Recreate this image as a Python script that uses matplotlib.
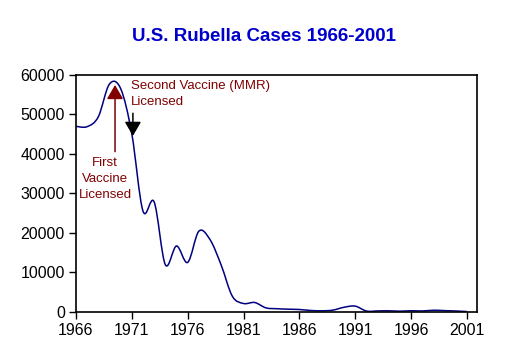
import numpy as np
import matplotlib.pyplot as plt
from matplotlib.path import Path
from matplotlib.patches import PathPatch

plt.rcParams['font.family'] = ['Liberation Sans', 'DejaVu Sans']

# reported rubella cases per year
years = list(range(1966, 2002))
cases = [46975, 46888, 49371, 57686, 56552, 45086, 25507, 27804, 11917, 16652,
         12491, 20395, 18269, 11795, 3904, 2077, 2325, 970, 752, 630,
         551, 306, 225, 396, 1125, 1401, 160, 192, 227, 128,
         238, 181, 364, 267, 176, 23]

xticks = [1966, 1971, 1976, 1981, 1986, 1991, 1996, 2001]
yticks = [0, 10000, 20000, 30000, 40000, 50000, 60000]

title_txt = 'U.S. Rubella Cases 1966-2001'
first_txt = 'First\nVaccine\nLicensed'
second_txt = 'Second Vaccine (MMR)\nLicensed'

fig = plt.figure(figsize=(5.13, 3.62), dpi=100)
ax = fig.add_axes([0.148, 0.139, 0.782, 0.654])

# smoothed line (excel style) -> bezier path through the data points
x = np.array(years, dtype=float)
y = np.array(cases, dtype=float)
verts = [(x[0], y[0])]
codes = [Path.MOVETO]
n = len(x)
for i in range(n - 1):
    x0, y0 = (x[i - 1], y[i - 1]) if i > 0 else (x[i], y[i])
    x3, y3 = (x[i + 2], y[i + 2]) if i < n - 2 else (x[i + 1], y[i + 1])
    c1 = (x[i] + (x[i + 1] - x0) / 6, y[i] + (y[i + 1] - y0) / 6)
    c2 = (x[i + 1] - (x3 - x[i]) / 6, y[i + 1] - (y3 - y[i]) / 6)
    verts += [c1, c2, (x[i + 1], y[i + 1])]
    codes += [Path.CURVE4] * 3
ax.add_patch(PathPatch(Path(verts, codes), facecolor='none', edgecolor='#000080', lw=1.1))

ax.set_xlim(1966, 2001.9)
ax.set_ylim(0, 60000)
ax.set_xticks(xticks)
ax.set_yticks(yticks)
ax.tick_params(direction='out', length=5, width=1, labelsize=11.5, pad=3)
for s in ax.spines.values():
    s.set_linewidth(1.2)

fig.text(0.515, 0.898, title_txt, ha='center', va='center', fontsize=13.5,
         fontweight='bold', color='#0000CC')

# vaccine arrows
ax.annotate('', xy=(1969.5, 57460), xytext=(1969.5, 40560),
            arrowprops=dict(arrowstyle='-|>,head_length=0.86,head_width=0.5',
                            mutation_scale=10, color='#800000', lw=1.1,
                            shrinkA=0, shrinkB=0))
ax.annotate('', xy=(1971.1, 44540), xytext=(1971.1, 50290),
            arrowprops=dict(arrowstyle='-|>,head_length=0.86,head_width=0.5',
                            mutation_scale=10, color='black', lw=1.1,
                            shrinkA=0, shrinkB=0))
ax.text(1968.6, 33640, first_txt, ha='center', va='center', fontsize=9.5,
        color='#800000', linespacing=1.42)
ax.text(1970.9, 55260, second_txt, ha='left', va='center', fontsize=9.5,
        color='#800000', linespacing=1.42)

fig.savefig('out.png', dpi=100)
